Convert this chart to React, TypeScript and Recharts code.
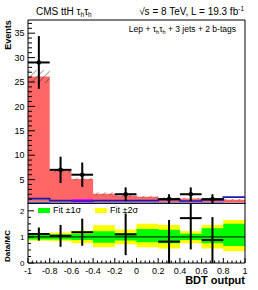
import React from 'react';
import {
  ComposedChart,
  Area,
  Line,
  Scatter,
  XAxis,
  YAxis,
  ErrorBar,
  ReferenceArea,
  ReferenceLine,
} from 'recharts';

// ---------- data ----------
const binEdges = [-1, -0.8, -0.6, -0.4, -0.2, 0, 0.2, 0.4, 0.6, 0.8, 1];
const ewkBkg = [0.5, 0.35, 0.35, 0.35, 0.35, 0.35, 0.35, 0.35, 0.35, 0.3];
const ttvBkg = [0, 0, 0.65, 0, 0, 0, 0, 0, 0, 0];
const fakeBkg = [25.6, 6.45, 4.1, 1.75, 1.35, 1.15, 0.9, 0.8, 0.75, 0.55];
const mcUnc = [1.3, 0.35, 0.3, 0.3, 0.2, 0.2, 0.15, 0.15, 0.15, 0.15];
const signalLine = [1.1, 0.7, 0.6, 0.7, 0.7, 0.7, 0.9, 0.6, 0.85, 1.4];

const fit2Lo = [0.85, 0.83, 0.76, 0.6, 0.72, 0.6, 0.56, 0.76, 0.56, 0.45];
const fit2Hi = [1.15, 1.17, 1.24, 1.45, 1.28, 1.5, 1.46, 1.22, 1.46, 1.65];
const fit1Lo = [0.9, 0.9, 0.88, 0.78, 0.86, 0.8, 0.76, 0.88, 0.76, 0.65];
const fit1Hi = [1.1, 1.1, 1.12, 1.22, 1.14, 1.3, 1.27, 1.12, 1.33, 1.5];

const dataX = [-0.9, -0.7, -0.5, -0.1, 0.3, 0.5, 0.7];
const dataY = [29, 7, 6, 2, 1, 2, 1];
const dataErr = [5.4, 2.7, 2.5, 1.4, 1, 1.4, 1];
const ratioY = [1.11, 1.04, 1.18, 1.1, 0.82, 1.72, 0.88];
const ratioErr = [0.25, 0.42, 0.52, 0.8, 0.83, 1.2, 0.88];
const halfBin = 0.1;

const xMajorTicks = [-1, -0.8, -0.6, -0.4, -0.2, 0, 0.2, 0.4, 0.6, 0.8, 1];
const yMajorTicks = [0, 5, 10, 15, 20, 25, 30, 35];
const ratioMajorTicks = [0, 1, 2];

const legendItems = [
  { label: 'Fit \u00b11\u03c3', color: '#00ff00' },
  { label: 'Fit \u00b12\u03c3', color: '#ffff00' },
];

// ---------- derived tables ----------
const nBins = binEdges.length - 1;
const histRows = binEdges.map((x, i) => {
  const j = Math.min(i, nBins - 1);
  const total = ewkBkg[j] + ttvBkg[j] + fakeBkg[j];
  return {
    x,
    ewk: ewkBkg[j],
    ttv: ttvBkg[j],
    fake: fakeBkg[j],
    unc: [total - mcUnc[j], total + mcUnc[j]],
    sig: signalLine[j],
    fit2: [fit2Lo[j], fit2Hi[j]],
    fit1: [fit1Lo[j], fit1Hi[j]],
  };
});
const dataPts = dataX.map((x, i) => ({ x, y: dataY[i], ex: halfBin, ey: dataErr[i] }));
const ratioPts = dataX.map((x, i) => ({ x, y: ratioY[i], ex: halfBin, ey: ratioErr[i] }));

const minorBetween = (majors: number[], n: number) => {
  const out: number[] = [];
  for (let i = 0; i < majors.length - 1; i++) {
    for (let k = 0; k < n; k++) out.push(majors[i] + ((majors[i + 1] - majors[i]) * k) / n);
  }
  out.push(majors[majors.length - 1]);
  return out;
};
const xAllTicks = minorBetween(xMajorTicks, 5);
const yAllTicks = [...minorBetween(yMajorTicks, 5), 36, 37];
const ratioAllTicks = minorBetween(ratioMajorTicks, 4);

const FONT = '"Liberation Sans", Arial, Helvetica, sans-serif';
const isMajor = (v: number, majors: number[]) => majors.some((m) => Math.abs(m - v) < 1e-6);

const fmtX = (v: number) => {
  const r = Math.round(v * 10) / 10;
  return r === 0 ? '0' : String(r);
};

const makeXTick = (showLabels: boolean) => (props: any) => {
  const { x, y, payload } = props;
  const major = isMajor(payload.value, xMajorTicks);
  return (
    <g>
      <line x1={x} x2={x} y1={y} y2={y - (major ? 5 : 2.5)} stroke="#000" strokeWidth={1} />
      {showLabels && major && (
        <text x={x} y={y + 10.5} textAnchor="middle" fontSize={9} fontFamily={FONT} fill="#000">
          {fmtX(payload.value)}
        </text>
      )}
    </g>
  );
};

const makeYTick = (majors: number[], labelled: number[], fontSize: number, majorLen: number, minorLen: number) => (props: any) => {
  const { x, y, payload } = props;
  const ax = x + 3;
  const major = isMajor(payload.value, majors);
  return (
    <g>
      <line x1={ax} x2={ax + (major ? majorLen : minorLen)} y1={y} y2={y} stroke="#000" strokeWidth={1} />
      {major && labelled.includes(payload.value) && (
        <text x={x - 0.5} y={y + fontSize * 0.36} textAnchor="end" fontSize={fontSize} fontFamily={FONT} fill="#000">
          {payload.value}
        </text>
      )}
    </g>
  );
};

const upperYTick = makeYTick(yMajorTicks, [5, 10, 15, 20, 25, 30, 35], 9, 7, 4);
const lowerYTick = makeYTick(ratioMajorTicks, [0, 1, 2], 8, 6, 3);

const dotShape = (p: any) => <circle cx={p.cx} cy={p.cy} r={2.3} fill="#000" />;
const noShape = () => <g />;

const Tau = () => (
  <>
    {'\u03c4'}
    <span style={{ fontSize: '65%', position: 'relative', top: '0.35em' }}>h</span>
  </>
);

export default function App() {
  const Y_MAX = 37.7;
  const R_MAX = 2.3;
  return (
    <div style={{ position: 'absolute', left: 0, top: 0, width: 258, height: 290, background: '#fff', fontFamily: FONT }}>
      <svg width={0} height={0} style={{ position: 'absolute' }}>
        <defs>
          <pattern id="hatch" width={5} height={5} patternUnits="userSpaceOnUse" patternTransform="rotate(45)">
            <line x1={0} y1={0} x2={0} y2={5} stroke="#444" strokeWidth={1} />
          </pattern>
        </defs>
      </svg>

      <div style={{ position: 'absolute', left: 0, top: 0 }}>
        <ComposedChart width={258} height={204} data={histRows} margin={{ top: 20, right: 13, left: 0, bottom: 0 }}>
          <XAxis
            type="number"
            dataKey="x"
            domain={[-1, 1]}
            ticks={xAllTicks}
            interval={0}
            height={0}
            tickSize={0}
            tickMargin={0}
            tickLine={false}
            axisLine={false}
            tick={makeXTick(false)}
            allowDataOverflow
          />
          <YAxis
            type="number"
            domain={[0, Y_MAX]}
            ticks={yAllTicks}
            interval={0}
            width={28}
            tickSize={0}
            tickMargin={3}
            tickLine={false}
            axisLine={false}
            tick={upperYTick}
            allowDataOverflow
          />
          <Area type="stepAfter" dataKey="ewk" stackId="mc" fill="#4060b0" fillOpacity={1} stroke="none" isAnimationActive={false} />
          <Area type="stepAfter" dataKey="ttv" stackId="mc" fill="#ff00ff" fillOpacity={1} stroke="none" isAnimationActive={false} />
          <Area type="stepAfter" dataKey="fake" stackId="mc" fill="#ff6666" fillOpacity={1} stroke="none" isAnimationActive={false} />
          <Area type="stepAfter" dataKey="unc" fill="url(#hatch)" fillOpacity={1} stroke="none" isAnimationActive={false} />
          <Line type="stepAfter" dataKey="sig" stroke="#1a1ab8" strokeWidth={1.6} dot={false} isAnimationActive={false} />
          <Scatter data={dataPts} dataKey="y" shape={dotShape} isAnimationActive={false}>
            <ErrorBar dataKey="ey" direction="y" width={0} stroke="#000" strokeWidth={2} />
            <ErrorBar dataKey="ex" direction="x" width={0} stroke="#000" strokeWidth={2} />
          </Scatter>
          <ReferenceArea x1={-1} x2={1} y1={0} y2={Y_MAX} fill="none" fillOpacity={0} stroke="#000" strokeWidth={1} />
        </ComposedChart>
      </div>

      <div style={{ position: 'absolute', left: 0, top: 203 }}>
        <ComposedChart width={258} height={87} data={histRows} margin={{ top: 0, right: 13, left: 0, bottom: 0 }}>
          <XAxis
            type="number"
            dataKey="x"
            domain={[-1, 1]}
            ticks={xAllTicks}
            interval={0}
            height={27}
            tickSize={0}
            tickMargin={0}
            tickLine={false}
            axisLine={false}
            tick={makeXTick(true)}
            allowDataOverflow
          />
          <YAxis
            type="number"
            domain={[0, R_MAX]}
            ticks={ratioAllTicks}
            interval={0}
            width={28}
            tickSize={0}
            tickMargin={3}
            tickLine={false}
            axisLine={false}
            tick={lowerYTick}
            allowDataOverflow
          />
          <Area type="stepAfter" dataKey="fit2" fill="#ffff00" fillOpacity={1} stroke="none" isAnimationActive={false} />
          <Area type="stepAfter" dataKey="fit1" fill="#00ff00" fillOpacity={1} stroke="none" isAnimationActive={false} />
          <ReferenceLine y={1} stroke="#000" strokeWidth={1} />
          <Scatter data={ratioPts} dataKey="y" shape={noShape} isAnimationActive={false}>
            <ErrorBar dataKey="ey" direction="y" width={0} stroke="#000" strokeWidth={2} />
            <ErrorBar dataKey="ex" direction="x" width={0} stroke="#000" strokeWidth={2} />
          </Scatter>
          <ReferenceArea x1={-1} x2={1} y1={0} y2={R_MAX} fill="none" fillOpacity={0} stroke="#000" strokeWidth={1} />
        </ComposedChart>
      </div>

      {/* legend in ratio panel */}
      <div style={{ position: 'absolute', left: 38, top: 205, display: 'flex', fontSize: 9, lineHeight: '10px' }}>
        {legendItems.map((it, i) => (
          <div key={i} style={{ display: 'flex', alignItems: 'center', marginRight: 14 }}>
            <div style={{ width: 12, height: 5, background: it.color, marginRight: 3 }} />
            <span>{it.label}</span>
          </div>
        ))}
      </div>

      {/* titles */}
      <div style={{ position: 'absolute', left: 36, top: 6, fontSize: 10, lineHeight: '12px', whiteSpace: 'nowrap' }}>
        CMS ttH <Tau />
        <Tau />
      </div>
      <div style={{ position: 'absolute', right: 14, top: 6, fontSize: 10, lineHeight: '12px', whiteSpace: 'nowrap' }}>
        {'\u221as = 8 TeV, L = 19.3 fb'}
        <span style={{ fontSize: '65%', position: 'relative', top: '-0.6em' }}>-1</span>
      </div>
      <div style={{ position: 'absolute', right: 22, top: 23, fontSize: 8.5, lineHeight: '12px', whiteSpace: 'nowrap' }}>
        Lep + <Tau />
        <Tau /> + 3 jets + 2 b-tags
      </div>

      {/* axis titles */}
      <div
        style={{
          position: 'absolute', left: 8 - 25, top: 35 - 6, width: 50, height: 12, lineHeight: '12px',
          textAlign: 'center', fontSize: 9, fontWeight: 'bold', transform: 'rotate(-90deg)',
        }}
      >
        Events
      </div>
      <div
        style={{
          position: 'absolute', left: 8 - 25, top: 246 - 5, width: 50, height: 10, lineHeight: '10px',
          textAlign: 'center', fontSize: 8, fontWeight: 'bold', transform: 'rotate(-90deg)',
        }}
      >
        Data/MC
      </div>
      <div style={{ position: 'absolute', right: 13, top: 274, fontSize: 11, lineHeight: '13px', fontWeight: 'bold', whiteSpace: 'nowrap' }}>
        BDT output
      </div>
    </div>
  );
}
